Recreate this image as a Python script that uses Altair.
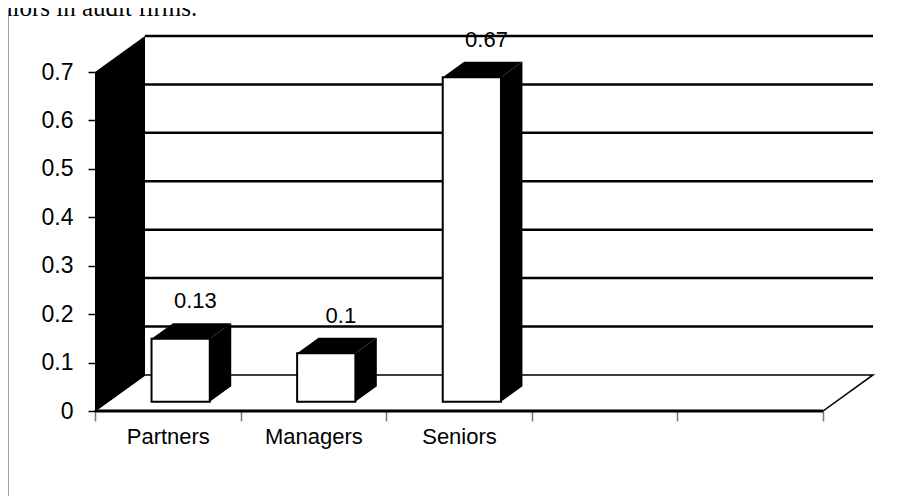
import json
import altair as alt
import pandas as pd

# ---- data ----
categories = ["Partners", "Managers", "Seniors", "", ""]
values = [0.13, 0.10, 0.67]
value_labels = ["0.13", "0.1", "0.67"]
y_ticks = [0, 0.1, 0.2, 0.3, 0.4, 0.5, 0.6, 0.7]
caption = "niors in audit firms."

# ---- geometry of the pseudo-3D look ----
N = len(categories)
Y_MAX = y_ticks[-1]
DX = 0.3434      # depth shift, in category-slot units
DY = 0.0745      # depth shift, in value units
BAR_W = 0.40     # bar width as slot fraction
D0, D1 = 0.257, 0.686  # bar front/back depth fractions

W, H = 778, 375
FONT = "Liberation Sans"

xs = alt.Scale(domain=[0, N + DX], nice=False, zero=False)
ys = alt.Scale(domain=[0, Y_MAX + DY], nice=False, zero=False)

x_axis = alt.Axis(
    values=list(range(N + 1)), title=None, domain=False, grid=False,
    ticks=True, tickSize=10, tickColor="#777777", tickWidth=1.5,
    labelExpr=f"{json.dumps(categories)}[datum.value] || ''",
    labelOffset=W / (N + DX) / 2, labelFont=FONT, labelFontSize=22,
    labelColor="black", labelPadding=5, labelOverlap=False,
    labelFlush=False, labelBound=False,
)
y_axis = alt.Axis(
    values=y_ticks, format="~g", title=None, domain=False, grid=False,
    tickSize=7, tickColor="black", tickWidth=1.5,
    labelFont=FONT, labelFontSize=23, labelColor="black", labelPadding=15,
    labelOverlap=False, labelFlush=False, labelBound=False,
)


def X(field, **kw):
    return alt.X(field, type="quantitative", scale=xs, axis=x_axis, **kw)


def Y(field, **kw):
    return alt.Y(field, type="quantitative", scale=ys, axis=y_axis, **kw)


# back-wall gridlines
grid_df = pd.DataFrame({"v": y_ticks[1:]})
grid_df["y"] = grid_df["v"] + DY
grid_df["x0"] = DX
grid_df["x1"] = N + DX
grid = alt.Chart(grid_df).mark_rule(color="black", strokeWidth=2.5).encode(
    x=X("x0"), x2="x1", y=Y("y")
)

# floor
floor_df = pd.DataFrame({"y": [0, DY], "xlo": [0, DX], "xhi": [N, N + DX]})
floor = alt.Chart(floor_df).mark_area(
    orient="horizontal", fill="white", stroke="black", strokeWidth=1.5
).encode(y=Y("y"), x=X("xlo"), x2="xhi")

# left wall
wall_df = pd.DataFrame({"x": [0, DX], "ylo": [0, DY], "yhi": [Y_MAX, Y_MAX + DY]})
wall = alt.Chart(wall_df).mark_area(color="black", orient="vertical").encode(
    x=X("x"), y=Y("ylo"), y2="yhi"
)

# bars
front_rows, side_rows, top_rows, lab_rows = [], [], [], []
for i, v in enumerate(values):
    c = i + 0.5
    x0f = c - BAR_W / 2 + D0 * DX
    x1f = c + BAR_W / 2 + D0 * DX
    sh = (D1 - D0) * DX
    front_rows.append({"x0": x0f, "x1": x1f, "y0": D0 * DY, "y1": v + D0 * DY})
    side_rows += [
        {"bar": i, "x": x1f, "ylo": D0 * DY, "yhi": v + D0 * DY},
        {"bar": i, "x": x1f + sh, "ylo": D1 * DY, "yhi": v + D1 * DY},
    ]
    top_rows += [
        {"bar": i, "y": v + D0 * DY, "xlo": x0f, "xhi": x1f},
        {"bar": i, "y": v + D1 * DY, "xlo": x0f + sh, "xhi": x1f + sh},
    ]
    lab_rows.append({"x": c + 0.55 * DX, "y": v + D1 * DY, "t": value_labels[i]})

side = alt.Chart(pd.DataFrame(side_rows)).mark_area(color="black", orient="vertical").encode(
    x=X("x"), y=Y("ylo"), y2="yhi", detail="bar:N"
)
top = alt.Chart(pd.DataFrame(top_rows)).mark_area(color="black", orient="horizontal").encode(
    y=Y("y"), x=X("xlo"), x2="xhi", detail="bar:N"
)
front = alt.Chart(pd.DataFrame(front_rows)).mark_rect(
    fill="white", stroke="black", strokeWidth=2
).encode(x=X("x0"), x2="x1", y=Y("y0"), y2="y1")

labels = alt.Chart(pd.DataFrame(lab_rows)).mark_text(
    font=FONT, fontSize=22, color="black", baseline="alphabetic", dy=-15
).encode(x=X("x"), y=Y("y"), text="t:N")

# front edge of the floor (category axis line)
edge = alt.Chart(pd.DataFrame({"x0": [0], "x1": [N], "y": [0]})).mark_rule(
    color="black", strokeWidth=3
).encode(x=X("x0"), x2="x1", y=Y("y"))

# page decorations: cut-off caption and left margin line
cap = alt.Chart(pd.DataFrame({"t": [caption]})).mark_text(
    font="Liberation Serif", fontSize=25, color="black", align="left",
    baseline="alphabetic"
).encode(x=alt.value(-95), y=alt.value(-20), text="t:N")
margin_line = alt.Chart(pd.DataFrame({"a": [0]})).mark_rule(
    color="#808080", strokeWidth=1.5
).encode(x=alt.value(-87), y=alt.value(-26), y2=alt.value(470))

chart = alt.layer(
    grid, floor, wall, side, top, front, edge, labels, cap, margin_line
).properties(
    width=W, height=H,
    autosize=alt.AutoSizeParams(type="none"),
    padding={"left": 87, "top": 28, "right": 21, "bottom": 85},
).configure_view(stroke=None)

chart.save("out.html", embed_options={"renderer": "svg", "actions": False})
